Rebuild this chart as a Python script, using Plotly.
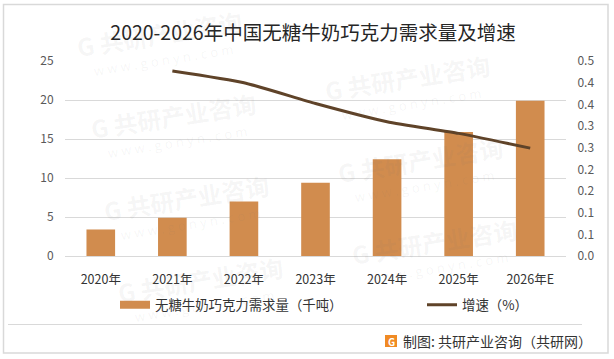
import plotly.graph_objects as go

categories = ["2020年", "2021年", "2022年", "2023年", "2024年", "2025年", "2026年E"]
demand = [3.4, 4.9, 7.0, 9.4, 12.4, 15.9, 19.9]
growth = [None, 0.427, 0.40, 0.352, 0.31, 0.283, 0.249]
right_tick_values = [0, 0.05, 0.10, 0.15, 0.20, 0.25, 0.30, 0.35, 0.40, 0.45]
right_tick_labels = ["0.0", "0.1", "0.1", "0.2", "0.2", "0.3", "0.3", "0.4", "0.4", "0.5"]

W, H = 614, 359
L, R, T, B = 65, 566, 61, 256
FONT = "Noto Sans CJK SC"
BAR_COLOR = "#d18c4e"
LINE_COLOR = "#5f4329"
WM = "rgba(120,120,120,0.07)"


def px(x):
    return (x - L) / (R - L)


def py(y):
    return (B - y) / (B - T)


fig = go.Figure()
fig.add_trace(go.Bar(x=categories, y=demand, name="无糖牛奶巧克力需求量（千吨）", showlegend=False,
                     legendgroup="demand", marker=dict(color=BAR_COLOR, line_width=0), width=0.4))
fig.add_trace(go.Scatter(x=categories, y=[None] * len(categories), name="无糖牛奶巧克力需求量（千吨）",
                         legendgroup="demand", mode="lines", line=dict(color=BAR_COLOR, width=8)))
fig.add_trace(go.Scatter(x=categories, y=growth, name="增速（%）", yaxis="y2", mode="lines", legend="legend2",
                         line=dict(color=LINE_COLOR, width=3, shape="spline", smoothing=0.5),
                         connectgaps=False))

annotations = []
for i in range(-1, 4):
    for j in range(-2, 5):
        cx = 173 + 234 * i + 13.5 * j
        cy = 115 - 38 * i + 82 * j
        # keep only the tiles that lie wholly inside the picture
        if cx - 92 < 0 or cx + 92 > W or cy - 30 < 0 or cy + 40 > H:
            continue
        annotations.append(dict(x=px(cx), y=py(cy), xref="paper", yref="paper", showarrow=False,
                                xanchor="center", yanchor="middle",
                                text="<b>G 共研产业咨询</b>", textangle=-9,
                                font=dict(family=FONT, size=24, color=WM)))
        annotations.append(dict(x=px(cx + 4), y=py(cy + 27), xref="paper", yref="paper", showarrow=False,
                                xanchor="center", yanchor="middle",
                                text="w w w . g o n y n . c o m", textangle=-9,
                                font=dict(family="Open Sans", size=13, color=WM)))
annotations.append(dict(x=px(401), y=py(341), xref="paper", yref="paper", xanchor="left", yanchor="middle",
                        showarrow=False, text="制图: 共研产业咨询（共研网）",
                        font=dict(family=FONT, size=14, color="#333333")))
annotations.append(dict(x=px(391), y=py(341), xref="paper", yref="paper", xanchor="center", yanchor="middle",
                        showarrow=False, text="<b>G</b>", font=dict(family=FONT, size=10, color="#ffffff")))

shapes = [
    dict(type="rect", xref="paper", yref="paper", x0=px(3.5), x1=px(608), y0=py(353), y1=py(4.5),
         line=dict(color="#d9d9d9", width=1.5), layer="below"),
    dict(type="line", xref="paper", yref="paper", x0=px(8), x1=px(582), y0=py(324.5), y1=py(324.5),
         line=dict(color="#d9d9d9", width=1), layer="below"),
    dict(type="rect", xref="paper", yref="paper", x0=px(385), x1=px(397), y0=py(347), y1=py(335),
         fillcolor="#f08a24", line_width=0),
]

legend_style = dict(orientation="h", xanchor="left", yanchor="middle", itemwidth=30,
                    bgcolor="rgba(0,0,0,0)", font=dict(family=FONT, size=13.4, color="#333333"))

fig.update_layout(
    width=W, height=H, autosize=False,
    margin=dict(l=L, r=W - R, t=T, b=H - B),
    paper_bgcolor="#ffffff", plot_bgcolor="rgba(0,0,0,0)",
    font=dict(family=FONT, size=12, color="#595959"),
    title=dict(text="2020-2026年中国无糖牛奶巧克力需求量及增速", x=313 / W, xanchor="center",
               y=1 - 33 / H, yanchor="middle", font=dict(family=FONT, size=19.5, color="#262626")),
    bargap=0.6,
    showlegend=True,
    legend=dict(x=px(115), y=py(305), **legend_style),
    legend2=dict(x=px(422), y=py(305), **legend_style),
    xaxis=dict(type="category", categoryorder="array", categoryarray=categories,
               showgrid=False, showline=True, linecolor="#d9d9d9", linewidth=1,
               ticks="outside", ticklen=12, tickcolor="rgba(0,0,0,0)",
               tickfont=dict(family=FONT, size=12.5, color="#333333")),
    yaxis=dict(range=[0, 25], dtick=5, showgrid=True, gridcolor="#d9d9d9", gridwidth=1, zeroline=False,
               ticks="outside", ticklen=8, tickcolor="rgba(0,0,0,0)",
               tickfont=dict(family=FONT, size=12, color="#595959")),
    yaxis2=dict(range=[0, 0.45], overlaying="y", side="right", showgrid=False, zeroline=False,
                tickmode="array", tickvals=right_tick_values, ticktext=right_tick_labels,
                ticks="outside", ticklen=8, tickcolor="rgba(0,0,0,0)",
                tickfont=dict(family=FONT, size=12, color="#595959")),
    annotations=annotations, shapes=shapes,
)

fig.write_html("out.html", config={"displayModeBar": False},
               post_script="document.body.style.margin='0';document.documentElement.style.overflow='hidden';")
